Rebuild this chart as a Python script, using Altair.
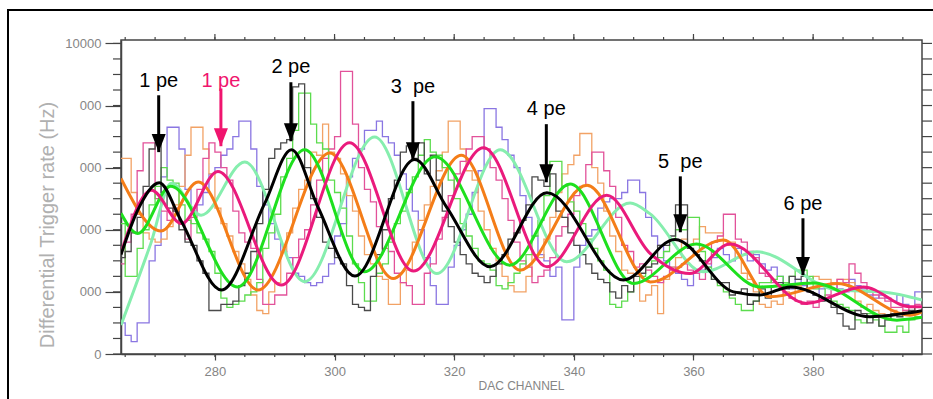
import altair as alt
import pandas as pd

# ---------------------------------------------------------------------------
# Data: differential trigger rate (Hz) per DAC channel, one histogram per
# threshold scan, plus the smooth fit of each scan.
# ---------------------------------------------------------------------------
BIN_START = 264  # first DAC channel bin; one value per channel below

black_hist = [
    3100, 3300, 3900, 4400, 5400, 6600, 6800, 5200, 4700, 4600,   # 264-273
    4000, 3600, 3500, 3000, 2600, 1400, 1400, 1600, 1600, 1700,   # 274-283
    2200, 2600, 3300, 4200, 5300, 6300, 6600, 6800, 6900, 8600,   # 284-293
    8700, 6000, 5000, 4400, 3600, 3400, 3100, 2900, 2200, 1600,   # 294-303
    1500, 1400, 2500, 3200, 4000, 5000, 5600, 6500, 6700, 6300,   # 304-313
    6800, 5800, 6400, 5600, 4600, 4100, 3600, 3200, 2900, 2600,   # 314-323
    2500, 2300, 2500, 2900, 3200, 3700, 3900, 4300, 4800, 5700,   # 324-333
    5600, 5400, 5800, 4600, 4400, 3900, 3500, 3200, 2900, 2600,   # 334-343
    2400, 2300, 2000, 1800, 2200, 2000, 2500, 2600, 2800, 2900,   # 344-353
    3500, 3500, 3800, 4800, 4800, 3400, 3200, 3000, 2700, 2400,   # 354-363
    2300, 2300, 1900, 2000, 2100, 1600, 1700, 2100, 1800, 2200,   # 364-373
    2300, 2100, 2500, 2400, 2500, 2000, 1900, 1700, 1800, 1500,   # 374-383
    1300, 900, 800, 1400, 1300, 1000, 1200, 900, 1100, 1300,      # 384-393
    1200, 1300, 1400, 1500,                                       # 394-397
]

orange_hist = [
    6300, 6300, 5200, 4500, 3900, 3700, 3600, 3700, 4100, 4800,   # 264-273
    5400, 6400, 7300, 7300, 6600, 5800, 4700, 4200, 3800, 3300,   # 274-283
    2900, 2400, 1900, 1400, 1300, 2000, 2300, 3300, 3900, 4700,   # 284-293
    5300, 5600, 6500, 6400, 7400, 6500, 6300, 5800, 5100, 4600,   # 294-303
    3800, 3200, 2900, 2500, 2400, 1600, 1600, 2300, 2700, 3600,   # 304-313
    4300, 4800, 5400, 5900, 6500, 7500, 7500, 6600, 5900, 5600,   # 314-323
    4600, 4000, 3400, 3000, 2500, 2200, 2000, 2000, 2500, 3200,   # 324-333
    3100, 3700, 4400, 5200, 5800, 6100, 6400, 7100, 7100, 6000,   # 334-343
    5500, 4600, 3800, 3300, 2700, 2600, 2300, 1700, 1900, 2200,   # 344-353
    1300, 2400, 2800, 3100, 3700, 3500, 3700, 4100, 3900, 3900,   # 354-363
    3900, 3500, 3600, 3100, 2600, 2400, 2000, 1600, 1500, 1700,   # 364-373
    1600, 2000, 1800, 2200, 2100, 2300, 2500, 2400, 2400, 2300,   # 374-383
    2400, 2400, 2300, 1700, 1500, 1600, 1400, 1300, 1200, 1400,   # 384-393
    1300, 1400, 1300, 1500,                                       # 394-397
]

green_hist = [
    4200, 2500, 2500, 3400, 4000, 4800, 5400, 6000, 5600, 5500,   # 264-273
    4800, 4300, 4200, 3900, 3700, 3300, 2600, 1800, 1500, 1600,   # 274-283
    1700, 1900, 2000, 2300, 3400, 3900, 4500, 5700, 6300, 7200,   # 284-293
    8400, 8400, 7400, 6800, 6600, 5600, 5200, 4700, 3800, 2900,   # 294-303
    2300, 1700, 1700, 2600, 2900, 3600, 4200, 4600, 5200, 5700,   # 304-313
    6400, 6900, 6500, 6400, 6000, 5600, 5000, 4200, 3800, 3400,   # 314-323
    3000, 2900, 2700, 2200, 2100, 2300, 2600, 2900, 3200, 3800,   # 324-333
    4300, 5100, 6200, 6200, 5400, 4900, 4600, 4200, 3700, 3400,   # 334-343
    3000, 2700, 1600, 1500, 1700, 2000, 2300, 2500, 2800, 3000,   # 344-353
    3100, 3300, 3700, 4000, 4000, 4400, 4400, 3300, 2800, 2400,   # 354-363
    2200, 2000, 1800, 1600, 1400, 1400, 1700, 2300, 2300, 2400,   # 364-373
    2500, 2300, 2500, 2700, 2700, 2500, 2100, 2200, 1800, 1700,   # 374-383
    1600, 1500, 1400, 1100, 1000, 1300, 1100, 900, 700, 700,      # 384-393
    900, 700, 1100, 1200,                                         # 394-397
]

pink_hist = [
    2900, 3600, 4500, 5900, 6800, 6800, 5000, 4600, 4300, 4700,   # 264-273
    4200, 3700, 4400, 5300, 6300, 6800, 6500, 6000, 5600, 4600,   # 274-283
    3900, 3600, 3400, 2400, 1600, 1600, 1900, 1900, 2600, 3100,   # 284-293
    3700, 4000, 4800, 5600, 6300, 6600, 7000, 9100, 9100, 7400,   # 294-303
    6000, 5300, 4900, 4100, 3400, 3300, 2600, 2300, 2200, 1600,   # 304-313
    1600, 2600, 2900, 3700, 4400, 5100, 5800, 6200, 6600, 7000,   # 314-323
    7000, 6600, 6000, 5600, 5000, 4300, 3600, 3000, 2800, 2300,   # 324-333
    2500, 2700, 3100, 3800, 4100, 4500, 5100, 5400, 6100, 6500,   # 334-343
    6500, 5900, 5400, 4400, 3500, 3300, 2800, 2900, 2700, 2500,   # 344-353
    2300, 2500, 2700, 2800, 2900, 2700, 2600, 2400, 2900, 3600,   # 354-363
    3800, 4500, 4500, 3700, 3600, 3300, 3100, 2600, 2500, 2300,   # 364-373
    2200, 1900, 1800, 1700, 1600, 1700, 1500, 1800, 1900, 2100,   # 374-383
    2400, 2300, 2900, 2600, 2300, 2000, 1900, 1800, 1700, 1500,   # 384-393
    1500, 1400, 1500, 1600,                                       # 394-397
]

purple_hist = [
    1000, 600, 400, 1000, 1000, 3000, 3500, 5700, 7300, 7300,     # 264-273
    6600, 5300, 4600, 4800, 5200, 5800, 6000, 6400, 6600, 7000,   # 274-283
    7500, 7500, 6600, 5400, 4800, 4200, 3700, 3300, 3100, 2600,   # 284-293
    2500, 2300, 2200, 2300, 2500, 2900, 3800, 4200, 5700, 6300,   # 294-303
    6600, 7200, 7200, 7500, 7000, 6800, 6400, 5800, 5300, 4600,   # 304-313
    4000, 3100, 2200, 1600, 1600, 2800, 3500, 4000, 4500, 5200,   # 314-323
    5900, 7900, 7900, 7300, 6900, 6400, 6000, 5100, 4400, 3800,   # 324-333
    3200, 3000, 2500, 2800, 1100, 1100, 2800, 3500, 3800, 4000,   # 334-343
    4700, 4900, 5000, 5000, 5200, 5600, 5600, 5200, 4400, 3800,   # 344-353
    3500, 3000, 2800, 2600, 2400, 2200, 2600, 2700, 2800, 3100,   # 354-363
    3400, 3200, 3000, 3400, 3200, 3000, 3200, 2900, 2700, 2800,   # 364-373
    2500, 2200, 2100, 2400, 2200, 2000, 1900, 2100, 2200, 2300,   # 374-383
    2100, 2000, 2400, 2200, 2100, 1900, 1800, 1900, 1800, 1700,   # 384-393
    1900, 1600, 1500, 2000,                                       # 394-397
]

# Fitted curves: (DAC channel, rate) at the turning points of each fit
black_fit_x = [264.3, 267.1, 270.7, 274.3, 281.1, 288.3, 292.8, 297.2, 303.4, 313.4,
               318.7, 326.0, 335.5, 348.3, 356.9, 366.7, 371.1, 376.2, 389.5, 398.2]
black_fit_y = [3200, 4630, 5510, 4310, 2060, 4840, 6580, 4740, 2510, 6260,
               4740, 2810, 5190, 2380, 3690, 2000, 1900, 2160, 1200, 1390]

orange_fit_x = [264.3, 271.0, 277.2, 287.2, 299.2, 309.8, 321.2, 331.0, 342.2, 352.8,
                365.0, 372.8, 384.0, 396.2, 398.2]
orange_fit_y = [5650, 3960, 5540, 2060, 6470, 2430, 6400, 2700, 5430, 2320,
                3670, 1840, 2270, 1250, 1360]

green_fit_x = [264.3, 267.1, 272.6, 283.8, 295.0, 305.0, 316.8, 329.3, 339.4, 350.0,
               360.5, 371.1, 380.0, 394.0, 398.2]
green_fit_y = [4530, 3880, 5400, 2160, 6580, 2650, 6350, 2860, 5470, 2270,
               3540, 2160, 2290, 1090, 1180]

magenta_fit_x = [264.3, 269.4, 274.4, 280.5, 291.1, 302.5, 313.2, 324.9, 335.5, 345.5,
                 352.7, 359.4, 366.1, 378.9, 388.4, 396.2, 398.2]
magenta_fit_y = [3250, 5270, 4200, 5880, 2220, 6800, 2670, 6640, 2810, 5110,
                 3250, 2590, 3540, 1630, 2160, 1520, 1520]

aqua_fit_x = [264.3, 269.3, 272.7, 277.7, 285.0, 295.0, 306.7, 317.1, 327.7, 338.8,
              349.4, 352.7, 361.6, 370.6, 384.0, 391.7, 398.2]
aqua_fit_y = [930, 3570, 5500, 4470, 6180, 2330, 6990, 2590, 6580, 2970,
              4860, 4520, 2650, 3290, 2060, 2000, 1740]

# Photo-electron peak annotations (non-breaking spaces keep the wide gaps)
pe_labels = ["1 pe", "1 pe", "2 pe", "3\u00a0\u00a0pe", "4 pe", "5\u00a0\u00a0pe", "6 pe"]
pe_series = ["black", "magenta", "black", "black", "black", "black", "black"]
pe_dac = [270.6, 281.0, 292.7, 313.1, 335.4, 357.8, 378.3]
pe_tip = [6500, 6690, 6850, 6240, 5530, 3920, 2540]
pe_tail = [8330, 8550, 8750, 8140, 7400, 5720, 4370]
pe_text = [8590, 8590, 9040, 8390, 7680, 5980, 4630]

# ---------------------------------------------------------------------------
X_DOMAIN = [264.3, 398.2]
Y_DOMAIN = [0, 10110]
W, H = 801, 314
AXIS_GREY = "#444444"
LABEL_GREY = "#858585"
FONT = "Liberation Sans"

x_scale = alt.Scale(domain=X_DOMAIN, nice=False, zero=False)
y_scale = alt.Scale(domain=Y_DOMAIN, nice=False, zero=False)

x_axis = alt.Axis(
    values=[280, 300, 320, 340, 360, 380], title=None, grid=False,
    tickSize=6, tickColor=AXIS_GREY, tickWidth=1.2,
    domainColor=AXIS_GREY, domainWidth=1.5,
    labelColor=LABEL_GREY, labelFontSize=13, labelFont=FONT, labelPadding=5,
)
y_axis = alt.Axis(
    values=[0, 2000, 4000, 6000, 8000, 10000], title=None, grid=False,
    tickSize=16, tickColor=AXIS_GREY, tickWidth=1.2,
    domainColor=AXIS_GREY, domainWidth=1.5,
    labelColor=LABEL_GREY, labelFontSize=13, labelFont=FONT, labelPadding=4,
    labelExpr="datum.value == 0 ? '0' : datum.value == 10000 ? '10000' : '000'",
)


def X(field):
    return alt.X(field, type="quantitative", scale=x_scale, axis=x_axis)


def Y(field):
    return alt.Y(field, type="quantitative", scale=y_scale, axis=y_axis)


def hist_frame(values):
    n = len(values)
    dac = [BIN_START + i for i in range(n)] + [BIN_START + n]
    return pd.DataFrame({"dac": dac, "rate": list(values) + [values[-1]]})


def fit_frame(xs, ys):
    return pd.DataFrame({"dac": xs, "rate": ys})


layers = []

# Outer figure frame
frame = alt.Chart(pd.DataFrame({"k": [0]})).mark_rect(
    fillOpacity=0, stroke="#000000", strokeWidth=2
).encode(
    x=alt.value(-113), x2=alt.value(W + 40), y=alt.value(-30), y2=alt.value(H + 80)
)
layers.append(frame)

# Histograms (thin step lines)
for vals, col in [
    (purple_hist, "#8a76e2"),
    (orange_hist, "#f2a265"),
    (pink_hist, "#e2529a"),
    (green_hist, "#5cdc4e"),
    (black_hist, "#4a4a4a"),
]:
    layers.append(
        alt.Chart(hist_frame(vals)).mark_line(
            interpolate="step-after", strokeWidth=1.3, color=col, clip=True
        ).encode(x=X("dac"), y=Y("rate"))
    )

# Fits (thick smooth lines)
for xs, ys, col in [
    (aqua_fit_x, aqua_fit_y, "#86eeae"),
    (orange_fit_x, orange_fit_y, "#f47d18"),
    (green_fit_x, green_fit_y, "#1ee01e"),
    (magenta_fit_x, magenta_fit_y, "#ea1a7c"),
    (black_fit_x, black_fit_y, "#000000"),
]:
    layers.append(
        alt.Chart(fit_frame(xs, ys)).mark_line(
            interpolate="monotone", strokeWidth=3, color=col, clip=True
        ).encode(x=X("dac"), y=Y("rate"))
    )

# Minor tick marks around the plot frame
x_minor = pd.DataFrame({"dac": list(range(265, 400, 5))})
x_major = pd.DataFrame({"dac": [280, 300, 320, 340, 360, 380]})
y_minor = pd.DataFrame({"rate": list(range(0, 10001, 500))})

tick_style = dict(color=AXIS_GREY, strokeWidth=1.2)
layers += [
    alt.Chart(x_minor).mark_rule(**tick_style).encode(
        x=X("dac"), y=alt.value(H), y2=alt.value(H + 3)),
    alt.Chart(x_minor).mark_rule(**tick_style).encode(
        x=X("dac"), y=alt.value(0), y2=alt.value(-3)),
    alt.Chart(x_major).mark_rule(**tick_style).encode(
        x=X("dac"), y=alt.value(0), y2=alt.value(-6)),
    alt.Chart(y_minor).mark_rule(**tick_style).encode(
        y=Y("rate"), x=alt.value(0), x2=alt.value(-8)),
    alt.Chart(y_minor).mark_rule(**tick_style).encode(
        y=Y("rate"), x=alt.value(W), x2=alt.value(W + 10)),
]

# Peak annotations: arrow shaft, arrow head and label
ann = pd.DataFrame({
    "label": pe_labels, "series": pe_series, "dac": pe_dac,
    "tip": pe_tip, "tail": pe_tail, "text_y": pe_text,
})
ann_color = alt.Color("series:N", scale=alt.Scale(
    domain=["black", "magenta"], range=["#000000", "#f0146e"]), legend=None)

layers += [
    alt.Chart(ann).mark_rule(strokeWidth=3).encode(
        x=X("dac"), y=Y("tail"), y2=alt.Y2("tip"), color=ann_color),
    alt.Chart(ann).mark_point(
        shape="M-0.78,-2L0.78,-2L0,0Z", size=324, filled=True, opacity=1, strokeWidth=0
    ).encode(x=X("dac"), y=Y("tip"), color=ann_color),
    alt.Chart(ann).mark_text(
        fontSize=20, font=FONT, baseline="alphabetic", align="center"
    ).encode(x=X("dac"), y=Y("text_y"), text="label:N", color=ann_color),
]

# Axis titles
layers += [
    alt.Chart(pd.DataFrame({"t": ["DAC CHANNEL"]})).mark_text(
        fontSize=12, font=FONT, color=LABEL_GREY, baseline="alphabetic", align="center"
    ).encode(text="t:N", x=alt.value(W / 2), y=alt.value(350)),
    alt.Chart(pd.DataFrame({"t": ["Differential Trigger rate (Hz)"]})).mark_text(
        fontSize=20, font=FONT, color="#b0b0b0", baseline="alphabetic",
        align="center", angle=270
    ).encode(text="t:N", x=alt.value(-67), y=alt.value(185)),
]

chart = alt.layer(*layers).properties(
    width=W,
    height=H,
    autosize=alt.AutoSizeParams(type="none"),
    padding={"left": 121, "top": 40, "right": 11, "bottom": 45},
    background="white",
).configure_view(stroke=AXIS_GREY, strokeWidth=1.5)

chart.save("out.html", embed_options={"renderer": "svg", "actions": False})
